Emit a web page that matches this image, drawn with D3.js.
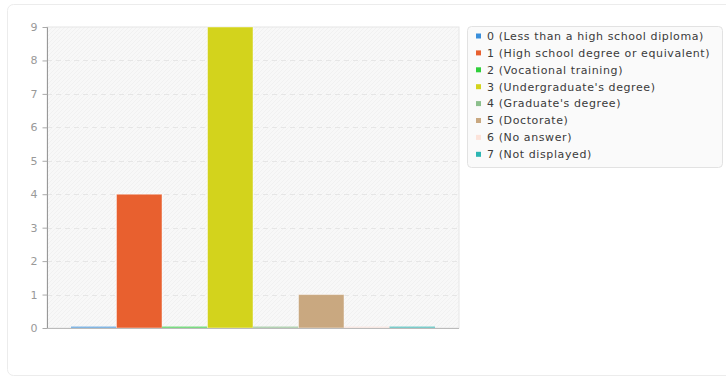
<!DOCTYPE html>
<html>
<head>
<meta charset="utf-8">
<script src="https://cdn.jsdelivr.net/npm/d3@7"></script>
<style>
  html, body { margin: 0; padding: 0; background: #fff; }
  svg { display: block; font-family: "DejaVu Sans", sans-serif; }
</style>
</head>
<body>
<svg id="chart" width="726" height="378"></svg>
<script>
// Education level answers
const categories = [
  "0 (Less than a high school diploma)",
  "1 (High school degree or equivalent)",
  "2 (Vocational training)",
  "3 (Undergraduate's degree)",
  "4 (Graduate's degree)",
  "5 (Doctorate)",
  "6 (No answer)",
  "7 (Not displayed)"
];
const counts = [0, 4, 0, 9, 0, 1, 0, 0];
const colors = ["#3a8fdb", "#e8602f", "#2fcf3a", "#d3d31c", "#8cbf8c", "#c9a880", "#fce3da", "#2db6b3"];
const yTicks = [0, 1, 2, 3, 4, 5, 6, 7, 8, 9];

const svg = d3.select("#chart");
const plot = { left: 47, right: 459, top: 27, bottom: 328 };

// outer panel
svg.append("rect")
  .attr("x", 7.5).attr("y", 4.5)
  .attr("width", 740).attr("height", 371)
  .attr("rx", 6)
  .attr("fill", "#fff")
  .attr("stroke", "#ececec");

// textured plot background
const defs = svg.append("defs");
const pat = defs.append("pattern")
  .attr("id", "bgtex").attr("patternUnits", "userSpaceOnUse")
  .attr("width", 4).attr("height", 4);
pat.append("rect").attr("width", 4).attr("height", 4).attr("fill", "#f8f8f8");
pat.append("path").attr("d", "M0,4 L4,0").attr("stroke", "#f1f1f1").attr("stroke-width", 1);

const x = d3.scaleBand()
  .domain(categories)
  .range([plot.left, plot.right])
  .paddingInner(0)
  .paddingOuter(0.527);

const y = d3.scaleLinear().domain([0, 9]).range([plot.bottom, plot.top]);

svg.append("rect")
  .attr("x", plot.left).attr("y", plot.top)
  .attr("width", plot.right - plot.left).attr("height", plot.bottom - plot.top)
  .attr("fill", "url(#bgtex)")
  .attr("stroke", "#e6e6e6");

// horizontal grid
svg.append("g")
  .selectAll("line")
  .data(yTicks.filter(d => d > 0 && d < 9))
  .join("line")
  .attr("x1", plot.left).attr("x2", plot.right)
  .attr("y1", d => Math.round(y(d)) + 0.5).attr("y2", d => Math.round(y(d)) + 0.5)
  .attr("stroke", "#e6e6e6")
  .attr("stroke-dasharray", "5,4");

// bars (zero values show as a thin line on the baseline)
svg.append("g")
  .selectAll("rect")
  .data(counts)
  .join("rect")
  .attr("x", (d, i) => x(categories[i]))
  .attr("width", x.bandwidth())
  .attr("y", d => d > 0 ? y(d) : plot.bottom - 1.5)
  .attr("height", d => d > 0 ? plot.bottom - y(d) : 1.5)
  .attr("fill", (d, i) => colors[i])
  .attr("fill-opacity", d => d > 0 ? 1 : 0.6)
  .attr("stroke", "#fff")
  .attr("stroke-opacity", d => d > 0 ? 0.45 : 0)
  .attr("stroke-width", 1);

// y axis
const yAxis = d3.axisLeft(y).tickValues(yTicks).tickFormat(d3.format("d")).tickSize(5).tickPadding(5);
const ga = svg.append("g").attr("transform", `translate(${plot.left + 0.5},0)`).call(yAxis);
ga.select(".domain").attr("stroke", "#999").attr("d", `M-3,${plot.top + 0.5}H0V${plot.bottom + 0.5}`);
ga.selectAll(".tick line").attr("stroke", "#aaa");
ga.selectAll(".tick text").attr("fill", "#999").attr("font-size", 11).attr("font-family", "DejaVu Sans, sans-serif");

// baseline
svg.append("line")
  .attr("x1", plot.left).attr("x2", plot.right)
  .attr("y1", plot.bottom + 0.5).attr("y2", plot.bottom + 0.5)
  .attr("stroke", "#bbb");

// legend
const lg = svg.append("g");
lg.append("rect")
  .attr("x", 467.5).attr("y", 26.5)
  .attr("width", 255).attr("height", 141)
  .attr("rx", 4)
  .attr("fill", "#fafafa")
  .attr("stroke", "#e2e2e2");
const items = lg.selectAll("g.item")
  .data(categories)
  .join("g")
  .attr("class", "item")
  .attr("transform", (d, i) => `translate(476, ${36 + i * 16.9})`);
items.append("rect")
  .attr("x", 0).attr("y", -2.5).attr("width", 5).attr("height", 5)
  .attr("fill", (d, i) => colors[i]);
items.append("text")
  .attr("x", 11).attr("y", 0)
  .attr("dy", "0.35em")
  .attr("font-size", 11)
  .attr("letter-spacing", "0.6px")
  .attr("fill", "#3a3a3a")
  .text(d => d);
</script>
</body>
</html>
